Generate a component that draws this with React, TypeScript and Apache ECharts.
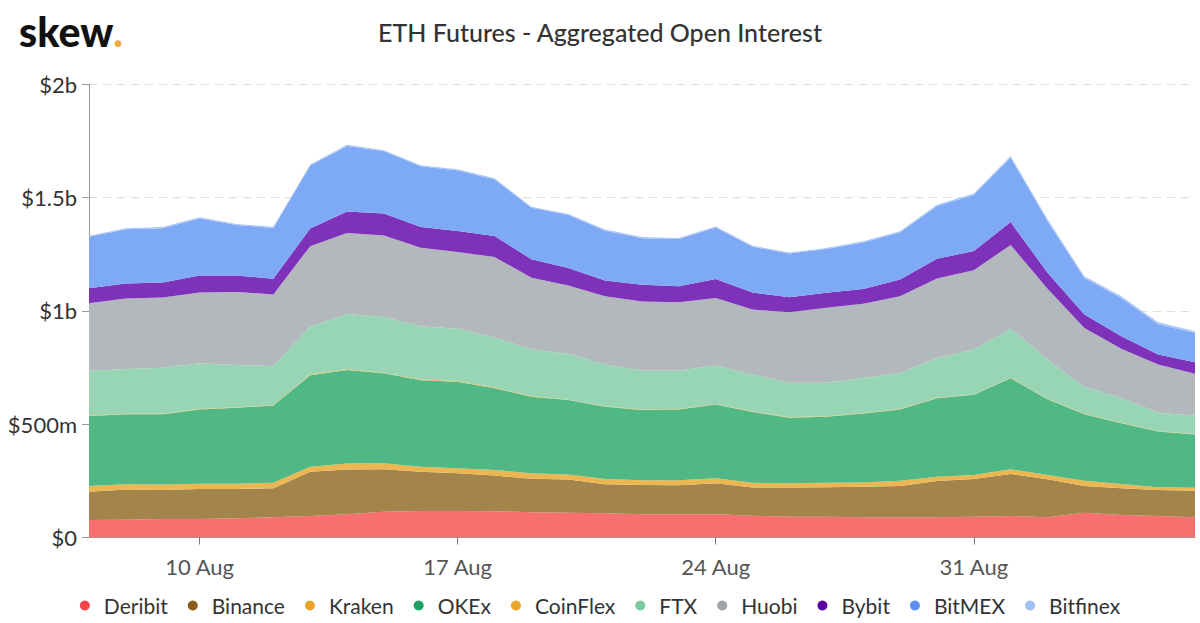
import React, { useEffect, useRef } from "react";
import * as echarts from "echarts";

const categories = [
  "7 Aug", "8 Aug", "9 Aug", "10 Aug", "11 Aug", "12 Aug", "13 Aug", "14 Aug", "15 Aug", "16 Aug",
  "17 Aug", "18 Aug", "19 Aug", "20 Aug", "21 Aug", "22 Aug", "23 Aug", "24 Aug", "25 Aug", "26 Aug",
  "27 Aug", "28 Aug", "29 Aug", "30 Aug", "31 Aug", "1 Sep", "2 Sep", "3 Sep", "4 Sep", "5 Sep", "6 Sep",
];

// values in millions of USD
const deribit = [77, 78, 82, 82, 85, 89, 95, 102, 114, 117, 117, 116, 111, 109, 107, 102, 102, 102, 96, 92, 92, 89, 89, 89, 92, 95, 89, 109, 99, 95, 89];
const binance = [125, 134, 127, 132, 129, 128, 195, 198, 187, 173, 166, 157, 148, 147, 128, 129, 128, 137, 125, 128, 130, 135, 138, 160, 166, 185, 168, 118, 118, 115, 117];
const kraken = [25, 23, 25, 23, 23, 25, 22, 26, 26, 22, 22, 25, 24, 22, 23, 22, 23, 22, 20, 19, 20, 19, 23, 19, 18, 21, 19, 23, 19, 12, 13];
const okex = [309, 309, 310, 328, 335, 340, 404, 413, 397, 382, 382, 360, 338, 328, 319, 309, 312, 326, 313, 289, 291, 304, 315, 346, 353, 401, 334, 294, 268, 245, 235];
const coinflex = [2, 2, 2, 2, 2, 2, 3, 3, 3, 3, 3, 3, 3, 2, 2, 2, 2, 2, 2, 2, 2, 2, 2, 2, 2, 3, 2, 2, 2, 2, 2];
const ftx = [197, 197, 203, 201, 187, 172, 212, 244, 245, 235, 231, 221, 206, 202, 184, 173, 169, 170, 162, 152, 147, 154, 159, 176, 198, 216, 173, 118, 110, 81, 82];
const huobi = [298, 311, 309, 313, 322, 316, 354, 357, 360, 346, 338, 355, 316, 301, 301, 304, 301, 297, 287, 311, 331, 328, 338, 350, 350, 369, 312, 260, 216, 213, 184];
const bybit = [66, 66, 67, 75, 72, 69, 78, 95, 97, 91, 93, 93, 81, 78, 69, 74, 71, 84, 76, 66, 66, 65, 74, 87, 84, 101, 71, 59, 56, 44, 51];
const bitmex = [227, 239, 239, 251, 223, 224, 277, 289, 274, 268, 267, 249, 227, 233, 220, 205, 208, 227, 201, 193, 193, 205, 207, 233, 248, 284, 228, 161, 168, 134, 129];
const bitfinex = [5, 5, 5, 5, 5, 5, 5, 5, 5, 5, 5, 5, 5, 5, 5, 5, 5, 5, 5, 5, 5, 5, 6, 6, 6, 7, 7, 8, 8, 8, 8];

const seriesNames = ["Deribit", "Binance", "Kraken", "OKEx", "CoinFlex", "FTX", "Huobi", "Bybit", "BitMEX", "Bitfinex"];
const seriesData = [deribit, binance, kraken, okex, coinflex, ftx, huobi, bybit, bitmex, bitfinex];
const legendColors = ["#f5454b", "#8a5c17", "#eaa62b", "#1fa163", "#eaa62b", "#7ccb9f", "#9fa6ab", "#5a00a8", "#5b90f0", "#a0c0f8"];
const areaColors = ["#f76f6f", "#a3844a", "#ecb651", "#4fb884", "#ecb651", "#97d5b4", "#b2b8bb", "#7e32b9", "#7ea9f5", "#a8c5f8"];

const yTicks = { min: 0, max: 2000, interval: 500 };

function formatY(v: number): string {
  if (v === 0) return "$0";
  if (v >= 1000) return "$" + v / 1000 + "b";
  return "$" + v + "m";
}

export default function App() {
  const ref = useRef<HTMLDivElement>(null);
  useEffect(() => {
    if (!ref.current) return;
    const chart = echarts.init(ref.current, undefined, { renderer: "svg" });
    const font = "Lato, 'Noto Sans', sans-serif";
    chart.setOption({
      animation: false,
      backgroundColor: "#ffffff",
      textStyle: { fontFamily: font },
      title: {
        text: "ETH Futures - Aggregated Open Interest",
        left: "center",
        top: 14,
        textStyle: { fontFamily: font, fontSize: 25, fontWeight: 500, color: "#333333" },
      },
      graphic: [
        {
          type: "text",
          left: 19,
          top: 11,
          style: {
            text: "{a|skew}{b|.}",
            rich: {
              a: { fontFamily: font, fontSize: 41, fontWeight: 900, fill: "#111111" },
              b: { fontFamily: font, fontSize: 41, fontWeight: 900, fill: "#f2a93b" },
            },
          },
        },
      ],
      legend: {
        data: seriesNames,
        left: "center",
        top: 590,
        icon: "circle",
        itemWidth: 28,
        itemHeight: 10,
        itemGap: 20,
        textStyle: { fontFamily: font, fontSize: 21, color: "#333333" },
      },
      grid: { left: 89, right: 5, top: 84, bottom: 85.5 },
      xAxis: {
        type: "category",
        data: categories,
        boundaryGap: false,
        axisLine: { lineStyle: { color: "#999999" } },
        axisTick: { length: 7, interval: (i: number) => i % 7 === 3, lineStyle: { color: "#777777" } },
        axisLabel: {
          interval: (i: number) => i % 7 === 3,
          fontFamily: font,
          fontSize: 22,
          color: "#555555",
          margin: 18,
        },
      },
      yAxis: {
        type: "value",
        min: yTicks.min,
        max: yTicks.max,
        interval: yTicks.interval,
        axisLine: { show: true, lineStyle: { color: "#999999" } },
        axisTick: { show: true, length: 7, lineStyle: { color: "#999999" } },
        axisLabel: { formatter: formatY, fontFamily: font, fontSize: 22, color: "#333333", margin: 12 },
        splitLine: { lineStyle: { type: [8, 6], color: "#dddddd" } },
      },
      series: seriesNames.map((name, i) => ({
        name,
        type: "line",
        stack: "total",
        data: seriesData[i],
        showSymbol: false,
        symbol: "none",
        lineStyle: { width: 0 },
        itemStyle: { color: legendColors[i] },
        areaStyle: { color: areaColors[i], opacity: 1 },
      })),
    });
    return () => chart.dispose();
  }, []);
  return (
    <div
      ref={ref}
      style={{ position: "fixed", left: 0, top: 0, width: 1200, height: 623 }}
    />
  );
}
